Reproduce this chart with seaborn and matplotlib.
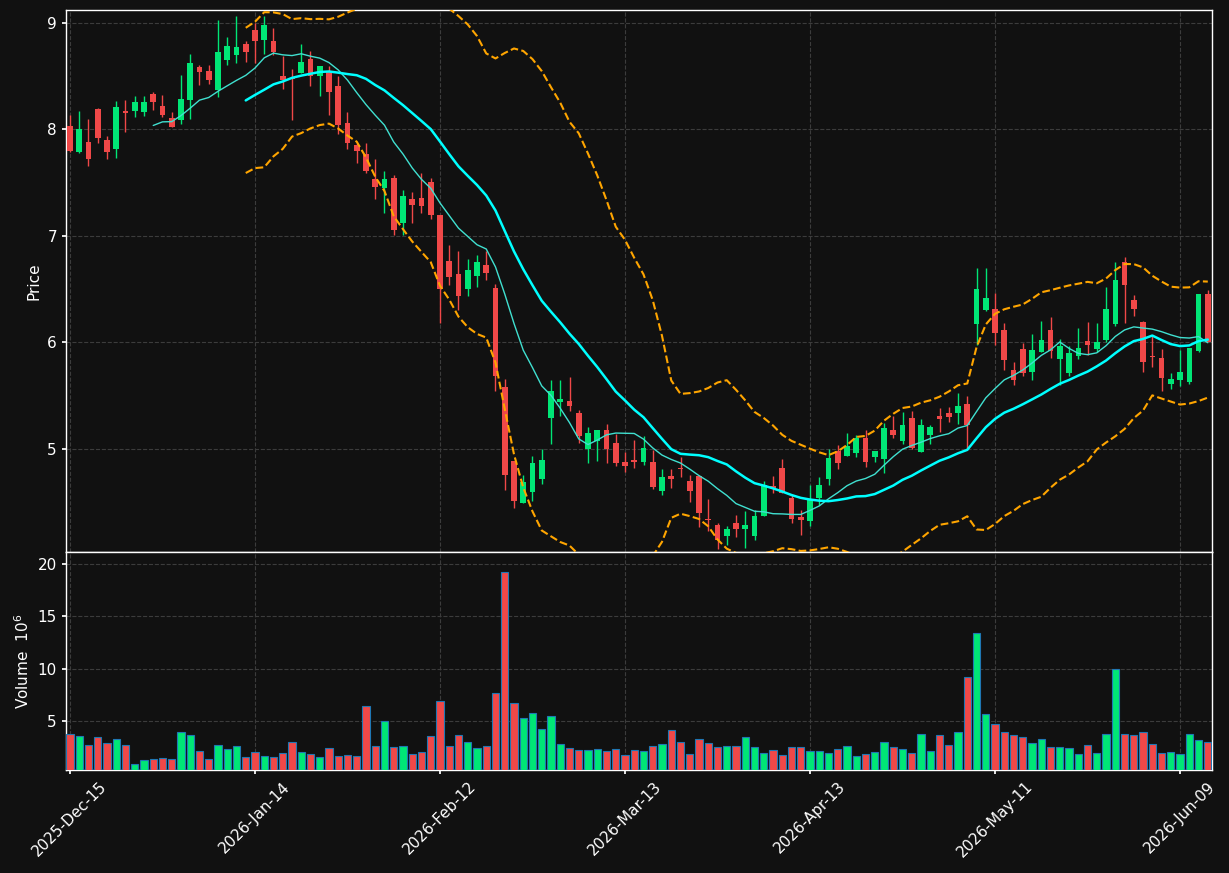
import numpy as np
import pandas as pd
import matplotlib
matplotlib.use("Agg")
import matplotlib.pyplot as plt
import seaborn as sns

# ---------------- data ----------------
opens = [8.03, 7.79, 7.88, 8.19, 7.90, 7.82, 8.17, 8.17, 8.16, 8.33,
         8.22, 8.11, 8.09, 8.28, 8.59, 8.55, 8.37, 8.65, 8.70, 8.80,
         8.93, 8.84, 8.83, 8.50, 8.48, 8.53, 8.66, 8.50, 8.55, 8.41,
         8.06, 7.85, 7.77, 7.53, 7.45, 7.54, 7.12, 7.35, 7.36, 7.51,
         7.20, 6.76, 6.64, 6.50, 6.62, 6.73, 6.51, 5.58, 4.88, 4.49,
         4.59, 4.71, 5.29, 5.44, 5.45, 5.33, 5.00, 5.07, 5.17, 5.05,
         4.87, 4.89, 4.87, 4.87, 4.60, 4.74, 4.82, 4.70, 4.74, 4.34,
         4.28, 4.18, 4.30, 4.24, 4.18, 4.37, 4.65, 4.82, 4.54, 4.36,
         4.32, 4.54, 4.71, 4.98, 4.93, 4.96, 5.10, 4.92, 4.90, 5.17,
         5.07, 5.29, 4.97, 5.13, 5.31, 5.33, 5.33, 5.42, 6.17, 6.30,
         6.31, 6.11, 5.74, 5.94, 5.72, 5.91, 6.11, 5.84, 5.71, 5.87,
         6.01, 5.94, 6.02, 6.17, 6.75, 6.40, 6.19, 5.87, 5.85, 5.61,
         5.64, 5.63, 5.92, 6.45]
highs = [8.14, 8.17, 8.10, 8.20, 7.94, 8.27, 8.28, 8.31, 8.31, 8.35,
         8.32, 8.16, 8.51, 8.71, 8.61, 8.61, 9.03, 8.87, 9.07, 8.83,
         9.00, 9.07, 8.95, 8.69, 8.57, 8.80, 8.74, 8.60, 8.60, 8.50,
         8.16, 7.87, 7.87, 7.72, 7.61, 7.57, 7.43, 7.41, 7.59, 7.54,
         7.20, 6.91, 6.86, 6.78, 6.82, 6.86, 6.55, 5.65, 4.88, 4.75,
         4.93, 5.00, 5.64, 5.64, 5.67, 5.36, 5.20, 5.17, 5.23, 5.14,
         4.97, 5.08, 5.12, 4.99, 4.81, 4.81, 4.92, 4.75, 4.75, 4.53,
         4.30, 4.27, 4.38, 4.41, 4.42, 4.70, 4.74, 4.90, 4.56, 4.42,
         4.66, 4.73, 5.00, 5.03, 5.15, 5.13, 5.17, 4.98, 5.24, 5.31,
         5.34, 5.35, 5.28, 5.22, 5.38, 5.39, 5.52, 5.49, 6.70, 6.70,
         6.46, 6.18, 5.81, 5.99, 6.08, 6.20, 6.24, 6.03, 5.96, 6.13,
         6.19, 6.18, 6.52, 6.75, 6.80, 6.44, 6.20, 6.07, 5.94, 5.71,
         5.93, 5.95, 6.45, 6.49]
lows = [7.79, 7.78, 7.66, 7.875, 7.72, 7.73, 7.98, 8.12, 8.13, 8.18,
        8.12, 8.02, 8.05, 8.10, 8.42, 8.43, 8.30, 8.61, 8.62, 8.63,
        8.62, 8.71, 8.70, 8.38, 8.09, 8.53, 8.41, 8.31, 8.14, 7.96,
        7.82, 7.68, 7.59, 7.35, 7.21, 7.01, 7.01, 7.12, 7.21, 7.16,
        6.18, 6.54, 6.30, 6.43, 6.52, 6.58, 5.54, 4.61, 4.44, 4.49,
        4.51, 4.67, 5.04, 5.31, 5.35, 5.05, 4.86, 4.88, 4.86, 4.84,
        4.78, 4.82, 4.85, 4.62, 4.56, 4.63, 4.73, 4.50, 4.26, 4.23,
        4.06, 4.09, 4.17, 4.07, 4.14, 4.37, 4.58, 4.58, 4.30, 4.19,
        4.27, 4.47, 4.66, 4.81, 4.93, 4.92, 4.83, 4.87, 4.77, 5.10,
        5.04, 5.00, 4.97, 5.04, 5.16, 5.25, 5.23, 5.00, 5.97, 6.29,
        5.97, 5.74, 5.60, 5.68, 5.64, 5.91, 5.85, 5.60, 5.68, 5.84,
        5.88, 5.91, 6.00, 6.15, 6.18, 6.25, 5.72, 5.77, 5.54, 5.56,
        5.59, 5.61, 5.91, 6.00]
closes = [7.80, 8.00, 7.72, 7.92, 7.79, 8.21, 8.15, 8.26, 8.26, 8.26,
          8.14, 8.02, 8.29, 8.62, 8.54, 8.46, 8.73, 8.78, 8.77, 8.73,
          8.83, 8.98, 8.73, 8.46, 8.47, 8.63, 8.50, 8.60, 8.35, 8.04,
          7.875, 7.80, 7.61, 7.46, 7.53, 7.05, 7.37, 7.29, 7.28, 7.20,
          6.50, 6.61, 6.43, 6.68, 6.75, 6.65, 5.68, 4.75, 4.51, 4.69,
          4.86, 4.89, 5.54, 5.47, 5.40, 5.12, 5.15, 5.17, 5.00, 4.86,
          4.84, 4.87, 5.01, 4.64, 4.73, 4.71, 4.81, 4.60, 4.39, 4.33,
          4.14, 4.24, 4.24, 4.28, 4.37, 4.66, 4.63, 4.58, 4.34, 4.33,
          4.52, 4.66, 4.91, 4.86, 5.02, 5.10, 4.87, 4.98, 5.19, 5.13,
          5.22, 5.01, 5.22, 5.20, 5.28, 5.30, 5.40, 5.22, 6.50, 6.42,
          6.09, 5.83, 5.64, 5.71, 5.93, 6.02, 5.92, 5.96, 5.90, 5.95,
          5.97, 6.00, 6.31, 6.58, 6.54, 6.31, 5.81, 5.86, 5.66, 5.65,
          5.72, 5.95, 6.45, 6.00]
volumes = [3.7, 3.5, 2.7, 3.4, 2.9, 3.3, 2.7, 0.9, 1.2, 1.3,
           1.4, 1.3, 3.9, 3.6, 2.1, 1.3, 2.7, 2.3, 2.6, 1.5,
           2.0, 1.6, 1.5, 1.9, 3.0, 2.0, 1.8, 1.5, 2.4, 1.6,
           1.7, 1.6, 6.4, 2.6, 5.0, 2.5, 2.6, 1.8, 2.0, 3.5,
           6.9, 2.6, 3.6, 3.0, 2.4, 2.6, 7.7, 19.2, 6.7, 5.3,
           5.7, 4.2, 5.5, 2.8, 2.4, 2.2, 2.2, 2.3, 2.1, 2.3,
           1.7, 2.2, 2.1, 2.6, 2.8, 4.1, 3.0, 1.8, 3.3, 2.9,
           2.5, 2.6, 2.6, 3.4, 2.5, 1.9, 2.2, 1.7, 2.5, 2.5,
           2.1, 2.1, 1.9, 2.3, 2.6, 1.6, 1.8, 2.0, 3.0, 2.5,
           2.3, 1.9, 3.7, 2.1, 3.6, 2.7, 3.9, 9.2, 13.4, 5.6,
           4.7, 3.9, 3.6, 3.4, 2.9, 3.3, 2.5, 2.5, 2.4, 1.8,
           2.7, 1.9, 3.7, 10.0, 3.7, 3.6, 3.9, 2.8, 1.9, 2.0,
           1.8, 3.7, 3.2, 3.0]
tick_labels = ["2025-Dec-15", "2026-Jan-14", "2026-Feb-12", "2026-Mar-13",
               "2026-Apr-13", "2026-May-11", "2026-Jun-09"]
tick_step = 20

# ---------------- style ----------------
BG = "#111111"
UP = "#00e676"
DOWN = "#f04848"
sns.set_theme(style="dark", rc={
    "figure.facecolor": BG, "axes.facecolor": BG, "axes.edgecolor": "white",
    "axes.labelcolor": "white", "xtick.color": "white", "ytick.color": "white",
    "text.color": "white", "grid.color": "#3c3c3c", "grid.linestyle": "--",
    "axes.grid": True, "xtick.bottom": True, "ytick.left": True,
})
plt.rcParams["font.family"] = ["DejaVu Sans"]

df = pd.DataFrame({"o": opens, "h": highs, "l": lows, "c": closes, "v": volumes})
df["i"] = np.arange(len(df))
df["up"] = df["c"] >= df["o"]
df["col"] = np.where(df["up"], UP, DOWN)
df["ma10"] = df["c"].rolling(10).mean()
df["ma20"] = df["c"].rolling(20).mean()
sd = df["c"].rolling(20).std()
df["bb_up"] = df["ma20"] + 2 * sd
df["bb_lo"] = df["ma20"] - 2 * sd

fig = plt.figure(figsize=(12.29, 8.73), dpi=100)
ax1 = fig.add_axes([0.0537, 0.3677, 0.9325, 0.6208])
ax2 = fig.add_axes([0.0537, 0.118, 0.9325, 0.2497], sharex=ax1)

for ax in (ax1, ax2):
    ax.set_facecolor(BG)
    ax.grid(True, color="#3c3c3c", linestyle="--", linewidth=0.8)
    for s in ax.spines.values():
        s.set_color("white")
        s.set_linewidth(1.0)

# candles
ax1.vlines(df["i"], df["l"], df["h"], colors=df["col"], linewidth=1.0, zorder=3)
body = (df["c"] - df["o"]).abs().clip(lower=0.012)
ax1.bar(df["i"], body, bottom=np.minimum(df["o"], df["c"]), width=0.6,
        color=df["col"], linewidth=0, zorder=4)

# moving averages & bands
sns.lineplot(data=df, x="i", y="ma10", ax=ax1, color="#40e0d0", linewidth=1.0, zorder=5)
sns.lineplot(data=df, x="i", y="ma20", ax=ax1, color="#00ffff", linewidth=1.8, zorder=5)
sns.lineplot(data=df, x="i", y="bb_up", ax=ax1, color="#ffa500", linewidth=1.5,
             linestyle="--", zorder=5)
sns.lineplot(data=df, x="i", y="bb_lo", ax=ax1, color="#ffa500", linewidth=1.5,
             linestyle="--", zorder=5)

ax1.set_ylim(4.028, 9.122)
ax1.set_yticks([5, 6, 7, 8, 9])
ax1.set_ylabel("Price", fontsize=11)
ax1.set_xlabel("")
ax1.tick_params(axis="x", labelbottom=False, length=0)
ax1.tick_params(axis="y", labelsize=11, length=3)

# volume
ax2.bar(df["i"], df["v"], width=0.8, color=df["col"], edgecolor="#1f77b4",
        linewidth=0.8, zorder=3)
ax2.set_ylim(0.29, 21.15)
ax2.set_yticks([5, 10, 15, 20])
ax2.set_ylabel("Volume  $10^6$", fontsize=11)
ax2.tick_params(axis="y", labelsize=11, length=3)

ax2.set_xlim(-0.43, 123.46)
ax2.set_xticks(list(range(0, len(df), tick_step))[:len(tick_labels)])
ax2.set_xticklabels(tick_labels, rotation=45, ha="center", fontsize=11)
ax2.tick_params(axis="x", length=3)
ax2.set_xlabel("")

fig.savefig("out.png", dpi=100, facecolor=BG)
